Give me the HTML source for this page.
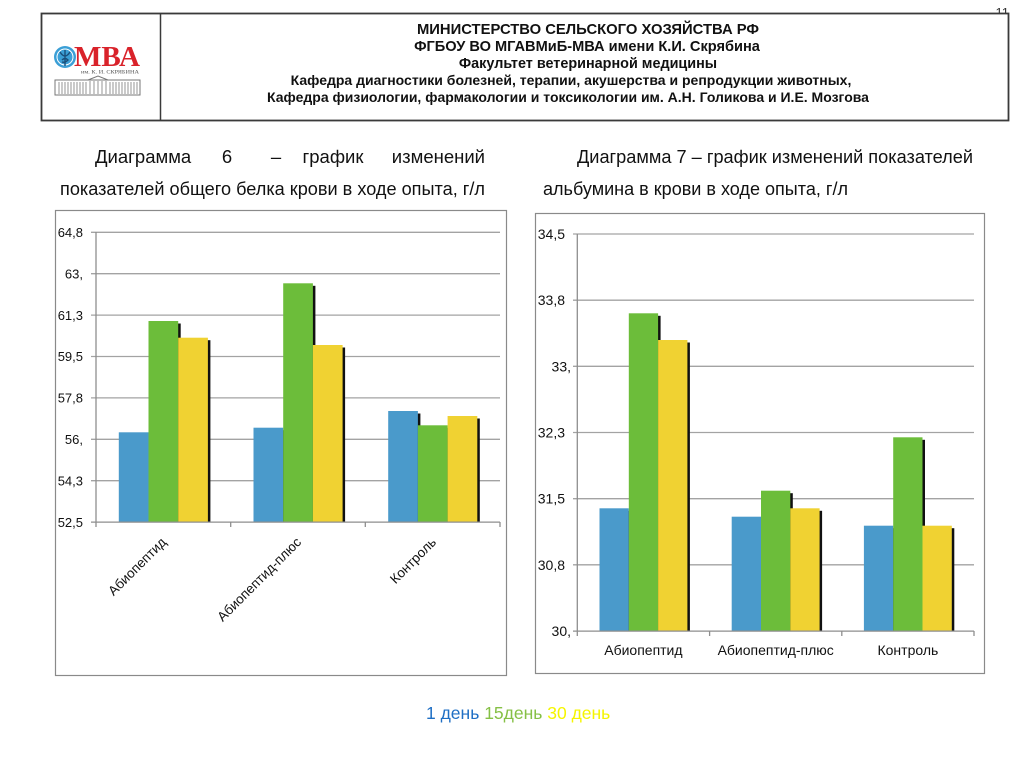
<!DOCTYPE html>
<html><head><meta charset="utf-8"><style>
html,body{margin:0;padding:0;background:#fff;}
svg{display:block;font-family:"Liberation Sans",Arial,sans-serif;}
</style></head><body>
<svg width="1024" height="767" viewBox="0 0 1024 767" xmlns="http://www.w3.org/2000/svg">
<rect width="1024" height="767" fill="#fff"/>
<!-- page number -->
<text x="1009" y="17" font-size="13" text-anchor="end" fill="#333">11</text>
<!-- header box -->
<rect x="41.5" y="13.5" width="967" height="107" fill="#fff" stroke="#3a3a3a" stroke-width="1.8"/>
<line x1="160.5" y1="13.5" x2="160.5" y2="120.5" stroke="#3a3a3a" stroke-width="1.5"/>
<!-- logo -->
<g>
<circle cx="65" cy="57" r="11" fill="#3b9fd6"/>
<circle cx="65" cy="57" r="8" fill="none" stroke="#fff" stroke-width="1"/>
<path d="M60 52 Q65 60 70 52 M65 50 L65 66 M62 60 Q65 57 68 60 Q65 63 62 62" fill="none" stroke="#1a4f7a" stroke-width="1.4"/>
<text x="74" y="66" font-family="Liberation Serif, serif" font-weight="bold" font-size="29" fill="#d9222a" textLength="66" lengthAdjust="spacingAndGlyphs">МВА</text>
<text x="81" y="73.5" font-family="Liberation Serif, serif" font-size="5.5" fill="#555" textLength="58" lengthAdjust="spacingAndGlyphs">им. К. И. СКРЯБИНА</text>
<rect x="55" y="80" width="85" height="15" fill="none" stroke="#777" stroke-width="1"/>
<path d="M88 80 L98 76 L108 80" fill="none" stroke="#777" stroke-width="1"/>
<g stroke="#888" stroke-width="0.9">
<line x1="59" y1="82" x2="59" y2="94"/><line x1="62" y1="82" x2="62" y2="94"/><line x1="65" y1="82" x2="65" y2="94"/><line x1="68" y1="82" x2="68" y2="94"/><line x1="71" y1="82" x2="71" y2="94"/><line x1="74" y1="82" x2="74" y2="94"/><line x1="77" y1="82" x2="77" y2="94"/><line x1="80" y1="82" x2="80" y2="94"/><line x1="83" y1="82" x2="83" y2="94"/><line x1="86" y1="82" x2="86" y2="94"/><line x1="90" y1="81" x2="90" y2="94"/><line x1="94" y1="81" x2="94" y2="94"/><line x1="98" y1="81" x2="98" y2="94"/><line x1="102" y1="81" x2="102" y2="94"/><line x1="106" y1="81" x2="106" y2="94"/><line x1="110" y1="82" x2="110" y2="94"/><line x1="113" y1="82" x2="113" y2="94"/><line x1="116" y1="82" x2="116" y2="94"/><line x1="119" y1="82" x2="119" y2="94"/><line x1="122" y1="82" x2="122" y2="94"/><line x1="125" y1="82" x2="125" y2="94"/><line x1="128" y1="82" x2="128" y2="94"/><line x1="131" y1="82" x2="131" y2="94"/><line x1="134" y1="82" x2="134" y2="94"/><line x1="137" y1="82" x2="137" y2="94"/>
</g>
</g>
<!-- header text -->
<g font-weight="bold" fill="#111" text-anchor="middle">
<text x="588" y="34" font-size="14.8">МИНИСТЕРСТВО СЕЛЬСКОГО ХОЗЯЙСТВА РФ</text>
<text x="587" y="51" font-size="14.6">ФГБОУ ВО МГАВМиБ-МВА имени К.И. Скрябина</text>
<text x="588" y="68" font-size="14.4">Факультет ветеринарной медицины</text>
<text x="571" y="85" font-size="14">Кафедра диагностики болезней, терапии, акушерства и репродукции животных,</text>
<text x="568" y="102" font-size="14">Кафедра физиологии, фармакологии и токсикологии им. А.Н. Голикова и И.Е. Мозгова</text>
</g>
<!-- titles -->
<g font-size="18.5" fill="#111">
<text x="95" y="163">Диаграмма</text>
<text x="227" y="163" text-anchor="middle">6</text>
<text x="276" y="163" text-anchor="middle">–</text>
<text x="333" y="163" text-anchor="middle">график</text>
<text x="485" y="163" text-anchor="end">изменений</text>
<text x="60" y="195" textLength="425" lengthAdjust="spacingAndGlyphs">показателей общего белка крови в ходе опыта, г/л</text>
<text x="577" y="163" textLength="396" lengthAdjust="spacingAndGlyphs">Диаграмма 7 – график изменений показателей</text>
<text x="543" y="195" textLength="305" lengthAdjust="spacingAndGlyphs">альбумина в крови в ходе опыта, г/л</text>
</g>

<!-- LEFT CHART -->
<rect x="55.5" y="210.5" width="451" height="465" fill="#fff" stroke="#8a8a8a" stroke-width="1.2"/>
<g stroke="#a3a3a3" stroke-width="1.3">
<line x1="91" y1="232.3" x2="500" y2="232.3"/>
<line x1="91" y1="273.7" x2="500" y2="273.7"/>
<line x1="91" y1="315.1" x2="500" y2="315.1"/>
<line x1="91" y1="356.5" x2="500" y2="356.5"/>
<line x1="91" y1="397.9" x2="500" y2="397.9"/>
<line x1="91" y1="439.3" x2="500" y2="439.3"/>
<line x1="91" y1="480.7" x2="500" y2="480.7"/>
</g>
<g fill="#111">
<rect x="121.3" y="434.8" width="29.7" height="87.2"/>
<rect x="118.8" y="432.3" width="29.7" height="89.7" fill="#4a9acb"/>
<rect x="151" y="323.5" width="29.7" height="198.5"/>
<rect x="148.5" y="321" width="29.7" height="201" fill="#6cbd3a"/>
<rect x="180.7" y="340.2" width="29.7" height="181.8"/>
<rect x="178.2" y="337.7" width="29.7" height="184.3" fill="#f0d232"/>
<rect x="256" y="430.2" width="29.7" height="91.8"/>
<rect x="253.5" y="427.7" width="29.7" height="94.3" fill="#4a9acb"/>
<rect x="285.7" y="285.8" width="29.7" height="236.2"/>
<rect x="283.2" y="283.3" width="29.7" height="238.7" fill="#6cbd3a"/>
<rect x="315.4" y="347.5" width="29.7" height="174.5"/>
<rect x="312.9" y="345" width="29.7" height="177" fill="#f0d232"/>
<rect x="390.7" y="413.5" width="29.7" height="108.5"/>
<rect x="388.2" y="411" width="29.7" height="111" fill="#4a9acb"/>
<rect x="420.4" y="427.8" width="29.7" height="94.2"/>
<rect x="417.9" y="425.3" width="29.7" height="96.7" fill="#6cbd3a"/>
<rect x="450.1" y="418.5" width="29.7" height="103.5"/>
<rect x="447.6" y="416" width="29.7" height="106" fill="#f0d232"/>
</g>
<g stroke="#8e8e8e" stroke-width="1.3">
<line x1="96" y1="232" x2="96" y2="527"/>
<line x1="91" y1="522.1" x2="500" y2="522.1"/>
<line x1="230.7" y1="522" x2="230.7" y2="527"/>
<line x1="365.3" y1="522" x2="365.3" y2="527"/>
<line x1="500" y1="522" x2="500" y2="527"/>
</g>
<g font-size="13" fill="#111" text-anchor="end">
<text x="83" y="237">64,8</text>
<text x="83" y="278.4">63,</text>
<text x="83" y="319.8">61,3</text>
<text x="83" y="361.2">59,5</text>
<text x="83" y="402.6">57,8</text>
<text x="83" y="444">56,</text>
<text x="83" y="485.4">54,3</text>
<text x="83" y="526.8">52,5</text>
</g>
<g font-size="13.5" fill="#111" text-anchor="end">
<text transform="translate(167,543) rotate(-45)">Абиопептид</text>
<text transform="translate(302,543) rotate(-45)">Абиопептид-плюс</text>
<text transform="translate(437,543) rotate(-45)">Контроль</text>
</g>

<!-- RIGHT CHART -->
<rect x="535.5" y="213.5" width="449" height="460" fill="#fff" stroke="#8a8a8a" stroke-width="1.2"/>
<g stroke="#a3a3a3" stroke-width="1.3">
<line x1="573" y1="234" x2="974" y2="234"/>
<line x1="573" y1="300.2" x2="974" y2="300.2"/>
<line x1="573" y1="366.3" x2="974" y2="366.3"/>
<line x1="573" y1="432.5" x2="974" y2="432.5"/>
<line x1="573" y1="498.7" x2="974" y2="498.7"/>
<line x1="573" y1="564.8" x2="974" y2="564.8"/>
</g>
<g fill="#111">
<rect x="602" y="510.8" width="29.3" height="120.2"/>
<rect x="599.5" y="508.3" width="29.3" height="122.7" fill="#4a9acb"/>
<rect x="631.3" y="315.8" width="29.3" height="315.2"/>
<rect x="628.8" y="313.3" width="29.3" height="317.7" fill="#6cbd3a"/>
<rect x="660.6" y="342.5" width="29.3" height="288.5"/>
<rect x="658.1" y="340" width="29.3" height="291" fill="#f0d232"/>
<rect x="734.2" y="519.2" width="29.3" height="111.8"/>
<rect x="731.7" y="516.7" width="29.3" height="114.3" fill="#4a9acb"/>
<rect x="763.5" y="493.2" width="29.3" height="137.8"/>
<rect x="761" y="490.7" width="29.3" height="140.3" fill="#6cbd3a"/>
<rect x="792.8" y="510.8" width="29.3" height="120.2"/>
<rect x="790.3" y="508.3" width="29.3" height="122.7" fill="#f0d232"/>
<rect x="866.4" y="528.2" width="29.3" height="102.8"/>
<rect x="863.9" y="525.7" width="29.3" height="105.3" fill="#4a9acb"/>
<rect x="895.7" y="439.8" width="29.3" height="191.2"/>
<rect x="893.2" y="437.3" width="29.3" height="193.7" fill="#6cbd3a"/>
<rect x="925" y="528.2" width="29.3" height="102.8"/>
<rect x="922.5" y="525.7" width="29.3" height="105.3" fill="#f0d232"/>
</g>
<g stroke="#8e8e8e" stroke-width="1.3">
<line x1="577.3" y1="234" x2="577.3" y2="636"/>
<line x1="573" y1="631.1" x2="974" y2="631.1"/>
<line x1="709.6" y1="631" x2="709.6" y2="636"/>
<line x1="841.8" y1="631" x2="841.8" y2="636"/>
<line x1="974" y1="631" x2="974" y2="636"/>
</g>
<g font-size="14" fill="#111" text-anchor="end">
<text x="565" y="239">34,5</text>
<text x="565" y="305.2">33,8</text>
<text x="571" y="371.3">33,</text>
<text x="565" y="437.5">32,3</text>
<text x="565" y="503.7">31,5</text>
<text x="565" y="569.8">30,8</text>
<text x="571" y="636">30,</text>
</g>
<g font-size="14" fill="#111" text-anchor="middle">
<text x="643.4" y="655">Абиопептид</text>
<text x="775.7" y="655">Абиопептид-плюс</text>
<text x="907.9" y="655">Контроль</text>
</g>

<!-- legend -->
<text x="426" y="719" font-size="17.5"><tspan fill="#1f6fc4">1 день </tspan><tspan fill="#86c046">15день </tspan><tspan fill="#f5f500">30 день</tspan></text>
</svg>
</body></html>
